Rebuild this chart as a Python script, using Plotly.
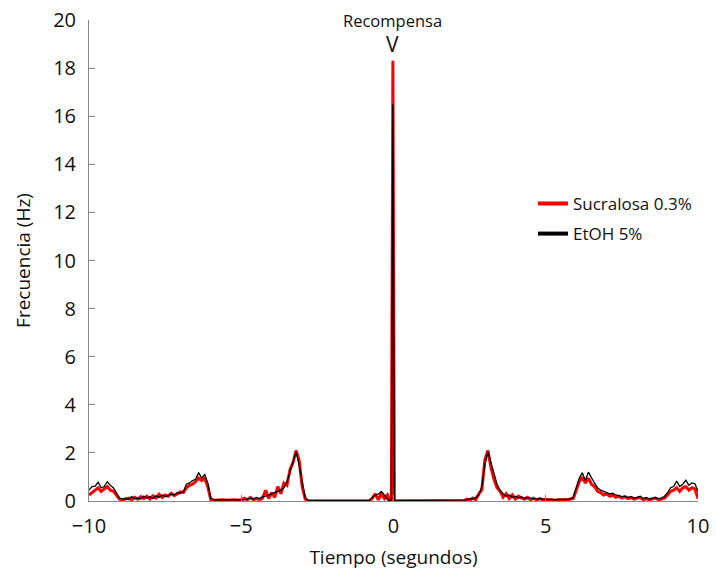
import plotly.graph_objects as go

# ---- data ----
t_left = [-10.0, -9.9, -9.8, -9.7, -9.6, -9.5, -9.4, -9.3, -9.2, -9.1, -9.0, -8.9, -8.8, -8.7, -8.6,
          -8.5, -8.4, -8.3, -8.2, -8.1, -8.0, -7.9, -7.8, -7.7, -7.6, -7.5, -7.4, -7.3, -7.2, -7.1,
          -7.0, -6.9, -6.8, -6.7, -6.6, -6.5, -6.4, -6.3, -6.2, -6.1, -6.0, -5.9, -5.8, -5.7, -5.6,
          -5.5, -5.4, -5.3, -5.2, -5.1, -5.0, -4.9, -4.8, -4.7, -4.6, -4.5, -4.4, -4.3, -4.2, -4.1,
          -4.0, -3.9, -3.8, -3.7, -3.6, -3.5, -3.4, -3.3, -3.2, -3.1, -3.0, -2.9, -2.8, -2.7]
etoh_left = [0.45, 0.60, 0.62, 0.78, 0.55, 0.60, 0.80, 0.65, 0.55, 0.35, 0.12, 0.08, 0.10, 0.06, 0.18,
             0.10, 0.12, 0.08, 0.20, 0.12, 0.18, 0.10, 0.22, 0.15, 0.25, 0.18, 0.22, 0.28, 0.25, 0.35,
             0.32, 0.40, 0.70, 0.75, 0.85, 0.90, 1.18, 0.95, 1.10, 0.75, 0.12, 0.05, 0.05, 0.06, 0.05,
             0.06, 0.05, 0.06, 0.05, 0.05, 0.06, 0.05, 0.10, 0.12, 0.08, 0.15, 0.10, 0.18, 0.20, 0.25,
             0.28, 0.35, 0.40, 0.45, 0.55, 0.80, 1.20, 1.65, 2.05, 1.50, 0.80, 0.15, 0.02, 0.02]
sucra_left = [0.25, 0.35, 0.45, 0.55, 0.40, 0.50, 0.60, 0.45, 0.40, 0.25, 0.08, 0.05, 0.08, 0.12, 0.05,
              0.15, 0.08, 0.18, 0.10, 0.20, 0.08, 0.22, 0.12, 0.28, 0.15, 0.25, 0.20, 0.32, 0.22, 0.30,
              0.38, 0.35, 0.55, 0.65, 0.70, 0.80, 0.95, 0.85, 0.95, 0.60, 0.05, 0.03, 0.04, 0.03, 0.05,
              0.03, 0.04, 0.03, 0.05, 0.03, 0.05, 0.12, 0.05, 0.15, 0.05, 0.10, 0.05, 0.12, 0.45, 0.10,
              0.35, 0.15, 0.60, 0.30, 0.75, 0.65, 1.30, 1.60, 2.10, 1.70, 0.60, 0.08, 0.0, 0.0]

t_mid = [-2.6, -1.5, -0.8, -0.7, -0.6, -0.5, -0.4, -0.3, -0.2, -0.12, -0.07, -0.02, 0.03, 0.1, 1.0, 2.2]
etoh_mid = [0.02, 0.02, 0.02, 0.15, 0.25, 0.28, 0.40, 0.25, 0.05, 0.02, 0.02, 16.5, 0.02, 0.02, 0.02, 0.02]
sucra_mid = [0.0, 0.0, 0.0, 0.10, 0.30, 0.05, 0.30, 0.10, 0.25, 0.0, 0.0, 18.3, 0.0, 0.0, 0.0, 0.0]

t_right = [2.3, 2.4, 2.5, 2.6, 2.7, 2.8, 2.9, 3.0, 3.1, 3.2, 3.3, 3.4, 3.5, 3.6, 3.7, 3.8, 3.9,
           4.0, 4.1, 4.2, 4.3, 4.4, 4.5, 4.6, 4.7, 4.8, 4.9, 5.0, 5.1, 5.2, 5.3, 5.4, 5.5, 5.6,
           5.7, 5.8, 5.9, 6.0, 6.1, 6.2, 6.3, 6.4, 6.5, 6.6, 6.7, 6.8, 6.9, 7.0, 7.1, 7.2, 7.3,
           7.4, 7.5, 7.6, 7.7, 7.8, 7.9, 8.0, 8.1, 8.2, 8.3, 8.4, 8.5, 8.6, 8.7, 8.8, 8.9, 9.0,
           9.1, 9.2, 9.3, 9.4, 9.5, 9.6, 9.7, 9.8, 9.9, 10.0]
etoh_right = [0.03, 0.05, 0.10, 0.08, 0.15, 0.25, 0.60, 1.50, 2.05, 1.60, 1.10, 0.70, 0.45, 0.30, 0.20, 0.25, 0.15,
              0.20, 0.12, 0.18, 0.10, 0.15, 0.12, 0.10, 0.08, 0.10, 0.08, 0.08, 0.06, 0.08, 0.05, 0.07, 0.08, 0.06,
              0.10, 0.08, 0.15, 0.60, 0.95, 1.18, 0.85, 1.20, 0.95, 0.75, 0.55, 0.45, 0.40, 0.35, 0.30, 0.32, 0.25,
              0.22, 0.18, 0.20, 0.15, 0.18, 0.12, 0.15, 0.20, 0.10, 0.15, 0.08, 0.12, 0.15, 0.10, 0.12, 0.20, 0.35,
              0.55, 0.60, 0.83, 0.60, 0.70, 0.87, 0.65, 0.75, 0.72, 0.40]
sucra_right = [0.0, 0.08, 0.03, 0.12, 0.05, 0.30, 0.45, 1.70, 2.10, 1.40, 0.90, 0.55, 0.40, 0.15, 0.30, 0.10, 0.25,
               0.08, 0.20, 0.12, 0.08, 0.15, 0.05, 0.12, 0.05, 0.10, 0.05, 0.06, 0.04, 0.05, 0.03, 0.05, 0.04, 0.06,
               0.05, 0.08, 0.10, 0.45, 0.80, 1.00, 0.75, 0.95, 0.70, 0.60, 0.40, 0.35, 0.25, 0.30, 0.20, 0.25, 0.15,
               0.20, 0.12, 0.18, 0.10, 0.15, 0.08, 0.12, 0.15, 0.05, 0.10, 0.05, 0.08, 0.12, 0.05, 0.08, 0.12, 0.25,
               0.40, 0.45, 0.55, 0.40, 0.55, 0.60, 0.45, 0.55, 0.50, 0.10]

series_names = ["Sucralosa 0.3%", "EtOH 5%"]
x_ticks = [-10, -5, 0, 5, 10]
x_tick_text = ["\u221210", "\u22125", "0", "5", "10"]
y_ticks = [0, 2, 4, 6, 8, 10, 12, 14, 16, 18, 20]

t_all = t_left + t_mid + t_right
sucra = sucra_left + sucra_mid + sucra_right
etoh = etoh_left + etoh_mid + etoh_right

FONT = "Open Sans"
fig = go.Figure()
fig.add_trace(go.Scatter(x=t_all, y=sucra, mode="lines", line=dict(color="#ff0000", width=3),
                         showlegend=False, hoverinfo="skip"))
fig.add_trace(go.Scatter(x=t_all, y=etoh, mode="lines", line=dict(color="#000000", width=1.3),
                         showlegend=False, hoverinfo="skip"))
# legend entries (thick samples as in the reference)
fig.add_trace(go.Scatter(x=[None], y=[None], mode="lines", name=series_names[0],
                         line=dict(color="#ff0000", width=4), legendgroup="a"))
fig.add_trace(go.Scatter(x=[None], y=[None], mode="lines", name=series_names[1],
                         line=dict(color="#000000", width=4), legendgroup="b"))

fig.add_annotation(x=-0.02, y=1.0, xref="x", yref="paper", text="Recompensa", showarrow=False,
                   yanchor="middle", font=dict(family=FONT, size=16.5, color="#111"))
fig.add_annotation(x=-0.02, y=19.0, xref="x", yref="y", text="V", showarrow=False,
                   yanchor="middle", font=dict(family=FONT, size=21, color="#111"))

fig.update_layout(
    width=716, height=572,
    margin=dict(l=89, r=18, t=20, b=71, autoexpand=False),
    paper_bgcolor="white", plot_bgcolor="white",
    font=dict(family=FONT, color="#111"),
    legend=dict(x=0.729, y=0.655, xanchor="left", yanchor="top", bgcolor="rgba(0,0,0,0)",
                font=dict(family=FONT, size=17, color="#111"), tracegroupgap=5),
    xaxis=dict(range=[-10, 10], tickvals=x_ticks, ticktext=x_tick_text, automargin=False,
               ticks="inside", ticklen=6, tickcolor="#888", showline=True, linecolor="#888", linewidth=1,
               showgrid=False, zeroline=False, tickfont=dict(size=20, family=FONT, color="#111"),
               ticklabelstandoff=7, ticklabeloverflow="allow",
               title=dict(text="Tiempo (segundos)", font=dict(size=19, family=FONT, color="#111"), standoff=12)),
    yaxis=dict(range=[0, 20], tickvals=y_ticks, ticks="inside", ticklen=6, tickcolor="#888", automargin=False,
               showline=True, linecolor="#888", linewidth=1, showgrid=False, zeroline=False,
               tickfont=dict(size=20, family=FONT, color="#111"), ticklabelstandoff=8,
               ticklabeloverflow="allow",
               title=dict(text="Frecuencia (Hz)", font=dict(size=19, family=FONT, color="#111"), standoff=17)),
)

# remove the default page margin so the figure fills the 716x572 window exactly
fig.write_html("out.html", config={"displayModeBar": False},
               post_script="document.body.style.margin='0';")
